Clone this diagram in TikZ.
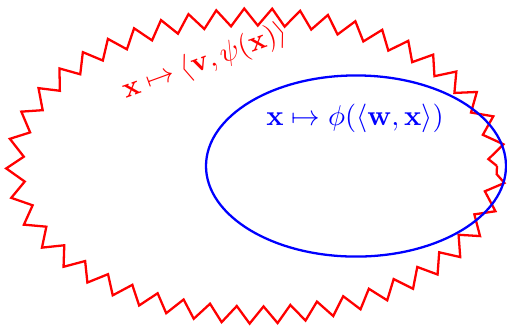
\documentclass[tikz,border=0pt]{standalone}
\usepackage{amsmath}
\usetikzlibrary{decorations.pathmorphing}
\begin{document}
\begin{tikzpicture}[x=0.35pt,y=-0.35pt,
  redzig/.style={draw=red,line width=0.8pt,decorate,decoration={zigzag,amplitude=3pt,segment length=9.6pt}},
  blueell/.style={draw=blue,line width=0.8pt},
  redlabel/.style={text=red,inner sep=0pt},
  bluelabel/.style={text=blue,inner sep=0pt}]
\useasboundingbox (0,0) rectangle (507,325);
\coordinate (rc) at (256,166);
\coordinate (bc) at (356,166);
\path[redzig] (rc) ellipse [x radius=84.35pt, y radius=52.15pt];
\path[blueell] (bc) ellipse [x radius=52.5pt, y radius=31.7pt];
\node[redlabel,rotate=20] (rl) at (205,62) {$\mathbf{x}\mapsto\langle\mathbf{v},\psi(\mathbf{x})\rangle$};
\node[bluelabel] (bl) at (355,118) {$\mathbf{x}\mapsto\phi(\langle\mathbf{w},\mathbf{x}\rangle)$};
\end{tikzpicture}
\end{document}
